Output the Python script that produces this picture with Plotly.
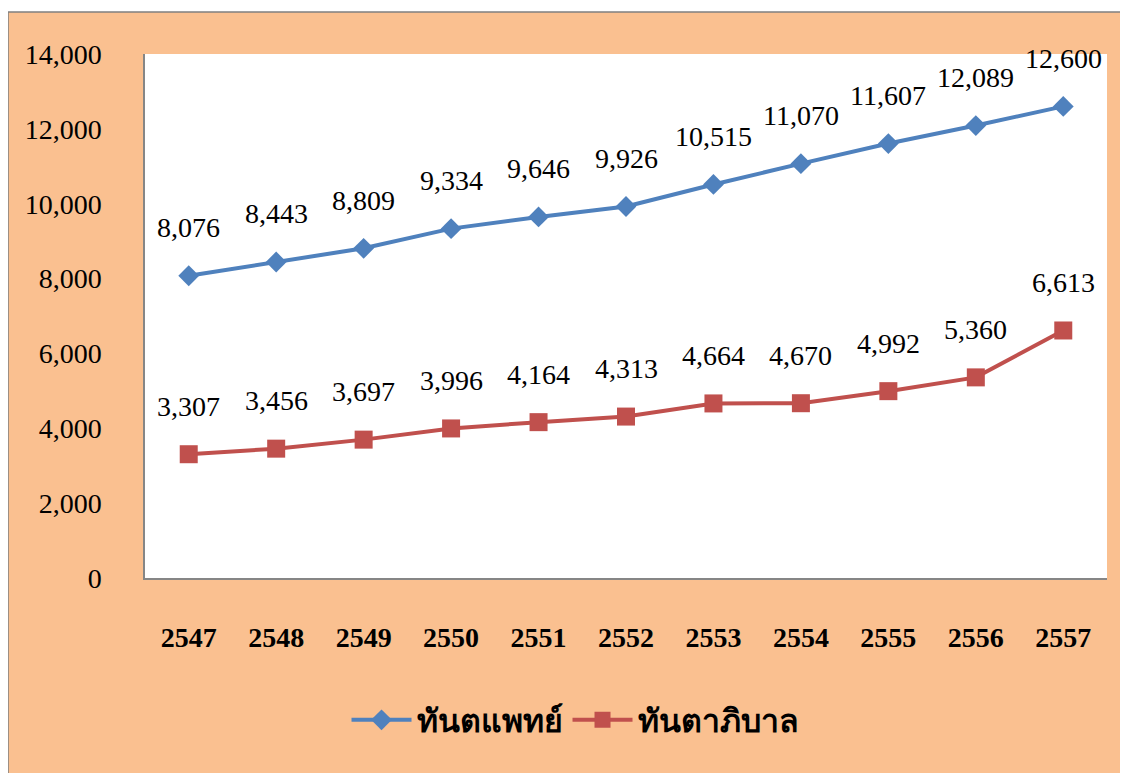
import plotly.graph_objects as go

years = ["2547", "2548", "2549", "2550", "2551", "2552", "2553", "2554", "2555", "2556", "2557"]
dentists = [8076, 8443, 8809, 9334, 9646, 9926, 10515, 11070, 11607, 12089, 12600]
dental_nurses = [3307, 3456, 3697, 3996, 4164, 4313, 4664, 4670, 4992, 5360, 6613]
series_names = ["ทันตแพทย์", "ทันตาภิบาล"]

BLUE = "#4F81BD"
RED = "#C0504D"
ORANGE = "#FAC090"
SERIF = "Liberation Serif, Times New Roman, serif"

fig = go.Figure()
fig.add_trace(go.Scatter(x=years, y=dentists, name=series_names[0], mode="lines+markers",
                         line=dict(color=BLUE, width=4),
                         marker=dict(symbol="diamond", size=16, color=BLUE)))
fig.add_trace(go.Scatter(x=years, y=dental_nurses, name=series_names[1], mode="lines+markers",
                         line=dict(color=RED, width=4),
                         marker=dict(symbol="square", size=18, color=RED)))

annotations = []
for ys in (dentists, dental_nurses):
    for i, yv in enumerate(ys):
        annotations.append(dict(x=i, y=yv, xref="x", yref="y", text=f"{yv:,}", showarrow=False,
                                yshift=48, font=dict(family=SERIF, size=28, color="black")))

shapes = [
    dict(type="rect", xref="paper", yref="paper", x0=-0.1424, x1=1.2, y0=-0.6, y1=1.0802,
         fillcolor=ORANGE, line=dict(color="#808080", width=1.5), layer="below"),
    dict(type="rect", xref="paper", yref="paper", x0=0, x1=1, y0=0, y1=1,
         fillcolor="white", line=dict(width=0), layer="below"),
]

fig.update_layout(
    width=1120, height=765,
    margin=dict(l=137, r=21, t=46, b=195),
    paper_bgcolor="white", plot_bgcolor="white",
    showlegend=True,
    legend=dict(orientation="h", x=0.447, xanchor="center", y=-0.271, yanchor="middle",
                font=dict(family="Noto Sans, sans-serif", size=32, color="black", weight="bold"),
                bgcolor="rgba(0,0,0,0)", itemwidth=60),
    shapes=shapes,
    annotations=annotations,
    xaxis=dict(type="category", showgrid=False, showline=True, linecolor="#868686", linewidth=1.5,
               ticks="", tickfont=dict(family=SERIF, size=28, color="black", weight="bold"),
               ticklabelstandoff=34, zeroline=False, range=[-0.5, 10.5]),
    yaxis=dict(range=[0, 14000], dtick=2000, tickformat=",d", showgrid=False, showline=True,
               linecolor="#868686", linewidth=1.5, ticks="", zeroline=False,
               tickfont=dict(family=SERIF, size=28, color="black"), ticklabelstandoff=36),
)

fig.write_html("out.html")
